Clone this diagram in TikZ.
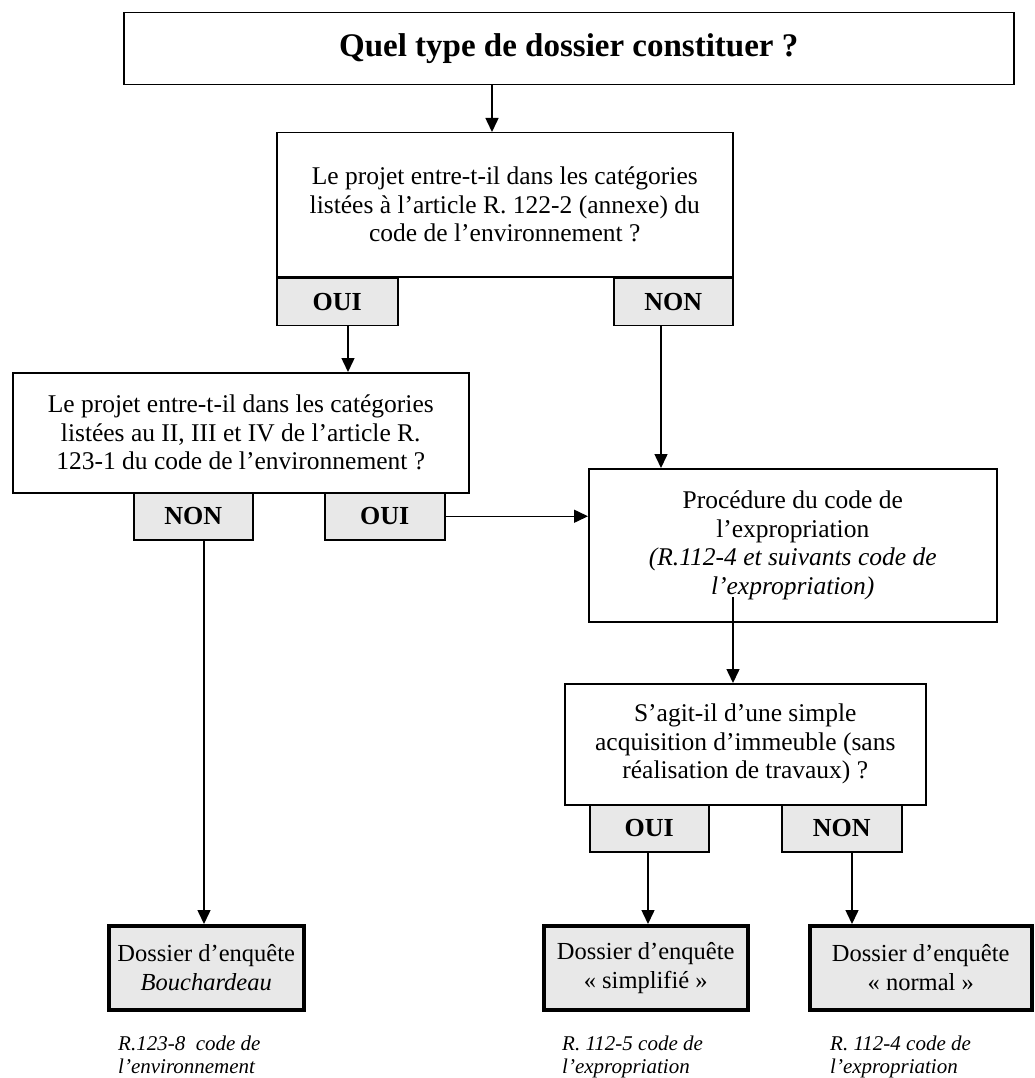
\documentclass[tikz,border=0pt]{standalone}
\usepackage{fontspec}
\setmainfont{Liberation Serif}
\usetikzlibrary{arrows.meta, positioning}
\definecolor{boxgray}{HTML}{E8E8E8}

\begin{document}
\begin{tikzpicture}[
      x=1pt, y=-1pt,
      question/.style={draw, line width=1.5pt, fill=white, align=center, anchor=north west, inner sep=0pt, font=\fontsize{25.5}{28.5}\selectfont},
      answer/.style={draw, line width=1.5pt, fill=boxgray, inner sep=0pt, minimum height=47pt, font=\fontsize{26}{28}\selectfont\bfseries},
      result/.style={draw, line width=3.5pt, fill=boxgray, align=center, anchor=north west, inner sep=0pt, minimum height=84pt, font=\fontsize{24.5}{29}\selectfont},
      note/.style={align=left, anchor=north west, inner sep=0pt, font=\fontsize{21}{22.5}\selectfont\itshape},
      flow/.style={-{Triangle[length=14pt,width=13pt]}, line width=1.5pt}
    ]
    \useasboundingbox[fill=white] (0,0) rectangle (1034,1078);

    \node[question, minimum width=890pt, minimum height=72pt, font=\fontsize{33}{38}\selectfont\bfseries] (title) at (123,12) {Quel type de dossier constituer ?};

    \node[question, minimum width=456pt, minimum height=144pt] (q1) at (276,132)
      {Le projet entre-t-il dans les catégories\\listées à l’article R. 122-2 (annexe) du\\code de l’environnement ?};
    \node[answer, anchor=north west, minimum width=121pt] (oui1) at (q1.south west) {OUI};
    \node[answer, anchor=north east, minimum width=119pt] (non1) at (q1.south east) {NON};

    \node[question, minimum width=456pt, minimum height=120pt] (q2) at (12,372)
      {Le projet entre-t-il dans les catégories\\listées au II, III et IV de l’article R.\\123-1 du code de l’environnement ?};
    \node[answer, anchor=north west, minimum width=119pt] (non2) at (133,492) {NON};
    \node[answer, anchor=north west, minimum width=120pt] (oui2) at (324,492) {OUI};

    \node[question, minimum width=408pt, minimum height=153pt] (proc) at (588,468)
      {Procédure du code de\\l’expropriation\\\textit{(R.112-4 et suivants code de}\\\textit{l’expropriation)}};

    \node[question, minimum width=361pt, minimum height=121pt] (q3) at (564,683)
      {S’agit-il d’une simple\\acquisition d’immeuble (sans\\réalisation de travaux) ?};
    \node[answer, anchor=north west, minimum width=119pt] (oui3) at (589,804) {OUI};
    \node[answer, anchor=north west, minimum width=120pt] (non3) at (781,804) {NON};

    \node[result, minimum width=195pt] (bouch) at (107,924) {Dossier d’enquête\\\textit{Bouchardeau}};
    \node[result, minimum width=204pt] (simpl) at (542,924) {Dossier d’enquête\\« simplifié »};
    \node[result, minimum width=222pt] (normal) at (808,924) {Dossier d’enquête\\« normal »};

    \node[note] (nbouch) at (118,1036) {R.123-8\ \ code de\\l’environnement};
    \node[note] (nsimpl) at (562,1036) {R. 112-5 code de\\l’expropriation};
    \node[note] (nnormal) at (830,1036) {R. 112-4 code de\\l’expropriation};

    \coordinate (procout) at (733,597);

    \draw[flow] (492,0 |- title.south) -- (492,0 |- q1.north);
    \draw[flow] (348,0 |- oui1.south) -- (348,0 |- q2.north);
    \draw[flow] (661,0 |- non1.south) -- (661,0 |- proc.north);
    \draw[flow] (oui2.east) -- (proc.west |- oui2.east);
    \draw[flow] (204,0 |- non2.south) -- (204,0 |- bouch.north);
    \draw[flow] (procout) -- (procout |- q3.north);
    \draw[flow] (648,0 |- oui3.south) -- (648,0 |- simpl.north);
    \draw[flow] (852,0 |- non3.south) -- (852,0 |- normal.north);
  \end{tikzpicture}
\end{document}
